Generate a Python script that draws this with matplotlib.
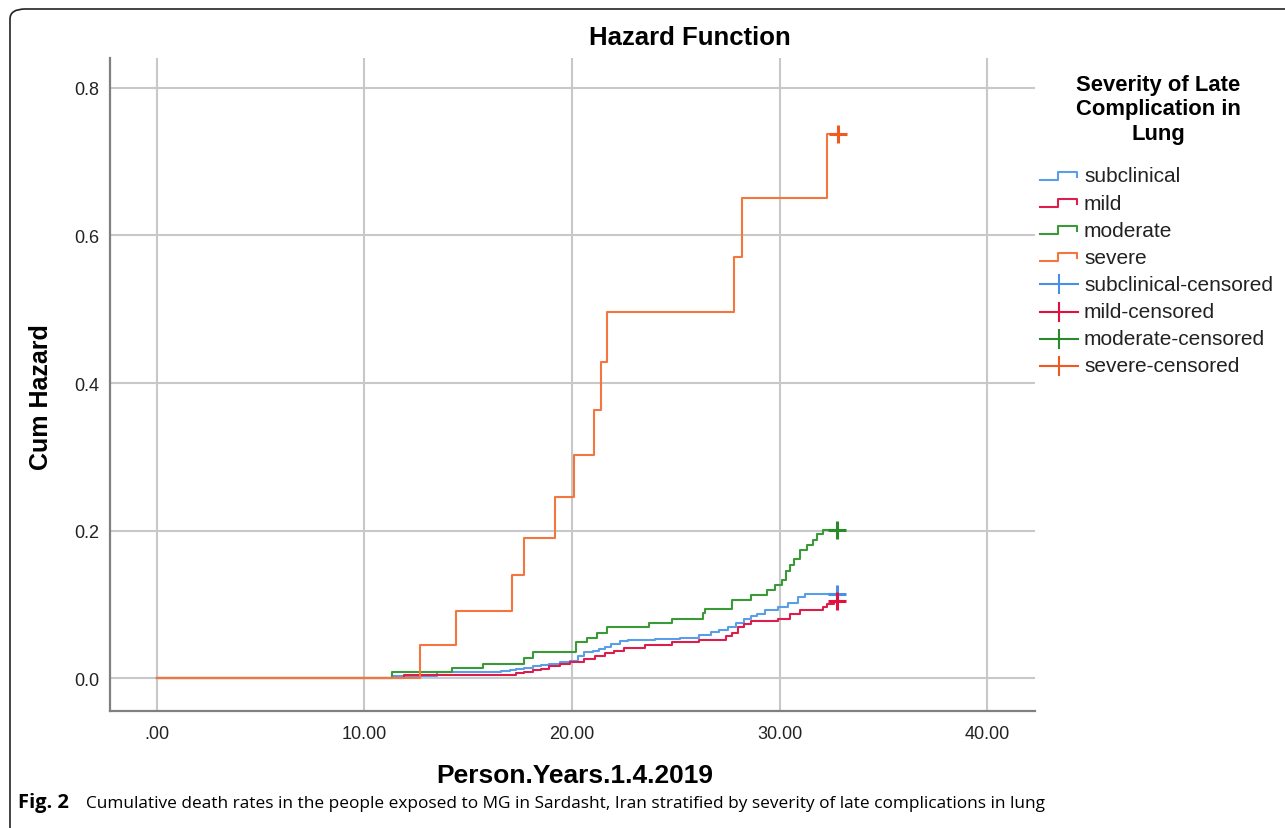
import matplotlib
matplotlib.use("Agg")
import matplotlib.pyplot as plt
from matplotlib.lines import Line2D
from matplotlib.patches import FancyBboxPatch

# ---------------- data ----------------
groups = ["subclinical", "mild", "moderate", "severe"]

subclinical_t = [0, 11.4, 13.5, 16.6, 17.0, 17.3, 17.7, 18.1, 18.5, 18.9, 19.4, 19.9, 20.3, 20.6,
                 21.0, 21.3, 21.6, 21.9, 22.3, 22.7, 24.0, 25.2, 26.1, 26.7, 27.1, 27.5, 27.9,
                 28.3, 28.6, 28.9, 29.3, 29.9, 30.4, 30.9, 31.2]
subclinical_h = [0, 0.003, 0.008, 0.010, 0.011, 0.012, 0.014, 0.016, 0.018, 0.020, 0.022, 0.024,
                 0.030, 0.035, 0.037, 0.040, 0.043, 0.047, 0.050, 0.052, 0.053, 0.054, 0.059,
                 0.063, 0.066, 0.069, 0.075, 0.080, 0.084, 0.087, 0.092, 0.096, 0.102, 0.110, 0.114]

mild_t = [0, 11.9, 16.6, 17.3, 17.7, 18.1, 18.5, 18.9, 19.4, 19.9, 20.6, 21.1, 21.6, 22.0, 22.5,
          23.5, 24.8, 26.1, 27.4, 27.7, 28.0, 28.3, 28.6, 29.9, 30.5, 31.0, 32.1, 32.3, 32.6]
mild_h = [0, 0.004, 0.005, 0.007, 0.009, 0.011, 0.013, 0.016, 0.019, 0.022, 0.026, 0.030, 0.034,
          0.037, 0.041, 0.045, 0.049, 0.052, 0.058, 0.062, 0.069, 0.073, 0.077, 0.080, 0.087,
          0.093, 0.096, 0.101, 0.105]

moderate_t = [0, 11.35, 14.2, 15.7, 17.7, 18.1, 20.2, 20.7, 21.2, 21.7, 23.7, 24.8, 26.3, 26.4,
              27.7, 28.6, 29.4, 29.8, 30.1, 30.3, 30.5, 30.7, 31.0, 31.3, 31.6, 31.8, 32.1]
moderate_h = [0, 0.008, 0.014, 0.019, 0.027, 0.036, 0.049, 0.055, 0.062, 0.069, 0.075, 0.081,
              0.088, 0.094, 0.106, 0.113, 0.120, 0.126, 0.133, 0.146, 0.154, 0.162, 0.174,
              0.181, 0.188, 0.195, 0.201]

severe_t = [0, 12.7, 14.4, 17.1, 17.7, 19.2, 20.1, 21.05, 21.4, 21.7, 27.8, 28.2, 32.3]
severe_h = [0, 0.045, 0.091, 0.140, 0.190, 0.246, 0.303, 0.364, 0.428, 0.497, 0.571, 0.651, 0.738]

censor_t = [32.75, 32.75, 32.75, 32.8]   # last censored time per group

x_ticks = [0, 10, 20, 30, 40]
x_tick_labels = [".00", "10.00", "20.00", "30.00", "40.00"]
y_ticks = [0.0, 0.2, 0.4, 0.6, 0.8]
y_tick_labels = ["0.0", "0.2", "0.4", "0.6", "0.8"]

series_t = [subclinical_t, mild_t, moderate_t, severe_t]
series_h = [subclinical_h, mild_h, moderate_h, severe_h]

# ---------------- styles ----------------
line_colors = ["#5b9ee8", "#dc1e4c", "#3a9a37", "#f4753d"]
cens_colors = ["#4a8fe6", "#e2103f", "#2a8a2a", "#f05a20"]

W, H = 1285, 829
fig = plt.figure(figsize=(W / 100, H / 100), dpi=100)
fig.patch.set_facecolor("white")

def fx(x):
    return x / W

def fy(y):
    return 1 - y / H

# outer rounded frame (extends off the right / bottom)
frame = FancyBboxPatch((fx(10), fy(840)), fx(1300), fy(10) - fy(840),
                       boxstyle="round,pad=0,rounding_size=0.012",
                       transform=fig.transFigure, fill=False, edgecolor="#222222",
                       linewidth=1.2, clip_on=False)
fig.add_artist(frame)

ax = fig.add_axes([fx(110), fy(712), fx(1035) - fx(110), fy(59) - fy(712)])
ax.set_xlim(-2.25, 42.3)
ax.set_ylim(-0.0443, 0.8405)

for s in ["top", "right"]:
    ax.spines[s].set_visible(False)
for s in ["left", "bottom"]:
    ax.spines[s].set_color("#808080")
    ax.spines[s].set_linewidth(1.6)

ax.set_xticks(x_ticks)
ax.set_xticklabels(x_tick_labels)
ax.set_yticks(y_ticks)
ax.set_yticklabels(y_tick_labels)
ax.tick_params(axis="both", length=0, labelsize=13, colors="#222222")
ax.tick_params(axis="x", pad=10)
ax.tick_params(axis="y", pad=8)
for lab in ax.get_xticklabels() + ax.get_yticklabels():
    lab.set_fontfamily("Liberation Sans")

ax.grid(True, color="#c8c8c8", linewidth=1.5)
ax.set_axisbelow(True)

for t, h, tc, c, cc in zip(series_t, series_h, censor_t, line_colors, cens_colors):
    xs = list(t) + [tc]
    ys = list(h) + [h[-1]]
    ax.step(xs, ys, where="post", color=c, linewidth=1.5, zorder=3)
    ax.plot([tc], [h[-1]], marker="+", markersize=13, markeredgewidth=2.2,
            color=cc, linestyle="none", zorder=4)

# titles
fig.text(fx(690), fy(38), "Hazard Function", ha="center", va="center",
         fontsize=18.5, fontweight="bold", family="Liberation Sans")
fig.text(fx(41), fy(397), "Cum Hazard", ha="center", va="center", rotation=90,
         fontsize=18, fontweight="bold", family="Liberation Sans")
fig.text(fx(575), fy(776), "Person.Years.1.4.2019", ha="center", va="center",
         fontsize=19, fontweight="bold", family="Liberation Sans")

# legend (SPSS style)
fig.text(fx(1158), fy(110), "Severity of Late\nComplication in\nLung", ha="center",
         va="center", fontsize=15.8, fontweight="bold", family="Liberation Sans",
         linespacing=1.2)

legend_labels = ["subclinical", "mild", "moderate", "severe",
                 "subclinical-censored", "mild-censored", "moderate-censored",
                 "severe-censored"]
y0, dy = 177, 27.1
for i, lab in enumerate(legend_labels):
    yc = y0 + i * dy
    if i < 4:
        c = line_colors[i]
        xs = [1040, 1058, 1058, 1077, 1077]
        ys = [yc + 4, yc + 4, yc - 4, yc - 4, yc + 1]
        fig.add_artist(Line2D([fx(v) for v in xs], [fy(v) for v in ys],
                              transform=fig.transFigure, color=c, linewidth=1.5))
    else:
        c = cens_colors[i - 4]
        fig.add_artist(Line2D([fx(1040), fx(1078)], [fy(yc), fy(yc)],
                              transform=fig.transFigure, color=c, linewidth=1.5))
        fig.add_artist(Line2D([fx(1059), fx(1059)], [fy(yc - 9), fy(yc + 9)],
                              transform=fig.transFigure, color=c, linewidth=1.5))
    fig.text(fx(1084), fy(yc), lab, ha="left", va="center", fontsize=15,
             family="Liberation Sans", color="#222222")

# caption
fig.text(fx(18), fy(803), "Fig. 2", ha="left", va="center", fontsize=14.5,
         fontweight="bold", family="Open Sans")
fig.text(fx(86), fy(804),
         "Cumulative death rates in the people exposed to MG in Sardasht, Iran stratified "
         "by severity of late complications in lung",
         ha="left", va="center", fontsize=12.4, family="Open Sans")

fig.savefig("out.png", dpi=100, facecolor="white")
